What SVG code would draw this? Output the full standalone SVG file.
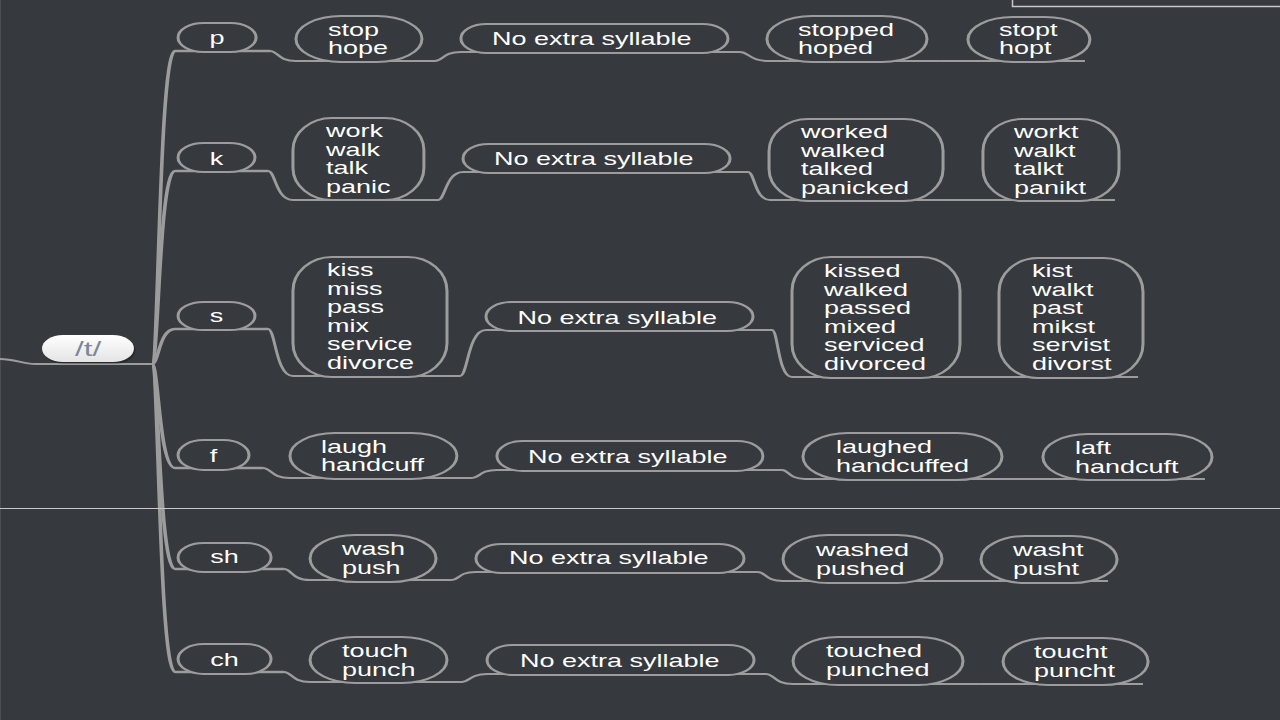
<svg xmlns="http://www.w3.org/2000/svg" width="1280" height="720" viewBox="0 0 1280 720">
<defs>
<style>
.n{fill:#36393e;stroke:#9c9c9c;stroke-width:2}
.c{fill:none;stroke:#9c9c9c;stroke-width:2}
.tr{fill:none;stroke:#9c9c9c;stroke-width:2.4}
.t{font-family:"Liberation Sans",Arial,sans-serif;font-size:18px;fill:#ffffff}
.m{text-anchor:middle}
</style>
<linearGradient id="rootg" x1="0" y1="0" x2="0" y2="1">
<stop offset="0" stop-color="#ffffff"/>
<stop offset="1" stop-color="#e4e4e4"/>
</linearGradient>
</defs>
<rect x="0" y="0" width="1280" height="720" fill="#36393e"/>
<line x1="0.5" y1="0" x2="0.5" y2="720" stroke="#4a4d52" stroke-width="1"/>
<g transform="scale(1.5,1)">
<g id="connectors">
<path class="c" d="M0,359 C10,359 15,364 23.3,364 L101.3,364"/>
<path class="tr" d="M101.3,364 C105.9,364 105.9,51 116.7,51 L180,51"/>
<path class="tr" d="M101.3,364 C105.9,364 105.9,171 116.7,171 L178.7,171"/>
<path class="tr" d="M101.3,364 C105.9,364 105.9,329 116.7,329 L178.7,329"/>
<path class="tr" d="M101.3,364 C105.9,364 105.9,468 116.7,468 L175.3,468"/>
<path class="tr" d="M101.3,364 C105.9,364 105.9,569 116.7,569 L189.3,569"/>
<path class="tr" d="M101.3,364 C105.9,364 105.9,672 116.7,672 L189.3,672"/>
<path class="c" d="M180,51 C185.2,51 185.2,61 197.3,61 L290,61"/>
<path class="c" d="M290,61 C295.2,61 295.2,52 307.3,52 L493.3,52"/>
<path class="c" d="M493.3,52 C499.3,52 499.3,61 513.3,61 L626.7,61"/>
<path class="c" d="M626.7,61 L723.3,61"/>
<path class="c" d="M178.7,171 C183.7,171 183.7,200 195.3,200 L292,200"/>
<path class="c" d="M292,200 C297,200 297,172 308.7,172 L498.7,172"/>
<path class="c" d="M498.7,172 C503.1,172 503.1,200 513.3,200 L640,200"/>
<path class="c" d="M640,200 L743.3,200"/>
<path class="c" d="M178.7,329 C183.7,329 183.7,376 195.3,376 L306.7,376"/>
<path class="c" d="M306.7,376 C311.9,376 311.9,330 324,330 L514.7,330"/>
<path class="c" d="M514.7,330 C518.7,330 518.7,377 528,377 L650,377"/>
<path class="c" d="M650,377 L758.7,377"/>
<path class="c" d="M175.3,468 C180.7,468 180.7,478 193.3,478 L314.7,478"/>
<path class="c" d="M314.7,478 C319.7,478 319.7,470 331.3,470 L521.3,470"/>
<path class="c" d="M521.3,470 C525.9,470 525.9,479 536.7,479 L680,479"/>
<path class="c" d="M680,479 L803.3,479"/>
<path class="c" d="M189.3,569 C194.5,569 194.5,580 206.7,580 L301.3,580"/>
<path class="c" d="M301.3,580 C305.9,580 305.9,572 316.7,572 L505.3,572"/>
<path class="c" d="M505.3,572 C510.3,572 510.3,581 522,581 L640,581"/>
<path class="c" d="M640,581 L738.7,581"/>
<path class="c" d="M189.3,672 C194.5,672 194.5,682 206.7,682 L308,682"/>
<path class="c" d="M308,682 C313,682 313,674 324.7,674 L510.7,674"/>
<path class="c" d="M510.7,674 C516.1,674 516.1,684 528.7,684 L653.3,684"/>
<path class="c" d="M653.3,684 L762,684"/>
</g>

<g id="root">
<rect x="29" y="337" width="61.3" height="27" rx="14" ry="13.5" fill="#000" opacity="0.25"/>
<rect x="28" y="335" width="61.3" height="27" rx="14" ry="13.5" fill="url(#rootg)"/>
<text class="t m" x="58.7" y="356" style="fill:#7d8799;font-size:21px">/t/</text>
</g>

<g id="node-p">
<rect class="n" x="118.7" y="23" width="52" height="29" rx="17" ry="14.5"/>
<text class="t m" x="144.7" y="44">p</text>
</g>
<g id="node-stop">
<rect class="n" x="197.3" y="16" width="84" height="46" rx="30" ry="23"/>
<text class="t" x="218.7" y="36">stop</text>
<text class="t" x="218.7" y="54">hope</text>
</g>
<g id="node-p-nes">
<rect class="n" x="307.3" y="24" width="178" height="29" rx="17" ry="14.5"/>
<text class="t" x="328" y="45">No extra syllable</text>
</g>
<g id="node-stopped">
<rect class="n" x="511.3" y="16" width="106.7" height="46" rx="30" ry="23"/>
<text class="t" x="532" y="36">stopped</text>
<text class="t" x="532" y="54">hoped</text>
</g>
<g id="node-stopt">
<rect class="n" x="645.3" y="17" width="81.3" height="45" rx="30" ry="22.5"/>
<text class="t" x="666" y="36">stopt</text>
<text class="t" x="666" y="54">hopt</text>
</g>

<g id="node-k">
<rect class="n" x="118.7" y="143" width="51.3" height="29" rx="17" ry="14.5"/>
<text class="t m" x="144.3" y="165">k</text>
</g>
<g id="node-work">
<rect class="n" x="195.3" y="118" width="87.3" height="82" rx="26" ry="32"/>
<text class="t" x="217.3" y="137">work</text>
<text class="t" x="217.3" y="155.6">walk</text>
<text class="t" x="217.3" y="174.2">talk</text>
<text class="t" x="217.3" y="192.8">panic</text>
</g>
<g id="node-k-nes">
<rect class="n" x="308.7" y="144" width="178" height="29" rx="17" ry="14.5"/>
<text class="t" x="329.3" y="165">No extra syllable</text>
</g>
<g id="node-worked">
<rect class="n" x="512.7" y="119" width="116" height="82" rx="26" ry="32"/>
<text class="t" x="534" y="138">worked</text>
<text class="t" x="534" y="156.6">walked</text>
<text class="t" x="534" y="175.2">talked</text>
<text class="t" x="534" y="193.8">panicked</text>
</g>
<g id="node-workt">
<rect class="n" x="655.3" y="119" width="90.7" height="82" rx="26" ry="32"/>
<text class="t" x="676" y="138">workt</text>
<text class="t" x="676" y="156.6">walkt</text>
<text class="t" x="676" y="175.2">talkt</text>
<text class="t" x="676" y="193.8">panikt</text>
</g>

<g id="node-s">
<rect class="n" x="118.7" y="302" width="51.3" height="28" rx="17" ry="14"/>
<text class="t m" x="144.3" y="322">s</text>
</g>
<g id="node-kiss">
<rect class="n" x="195.3" y="257" width="102.7" height="120" rx="26" ry="34"/>
<text class="t" x="218" y="276">kiss</text>
<text class="t" x="218" y="294.6">miss</text>
<text class="t" x="218" y="313.2">pass</text>
<text class="t" x="218" y="331.8">mix</text>
<text class="t" x="218" y="350.4">service</text>
<text class="t" x="218" y="369">divorce</text>
</g>
<g id="node-s-nes">
<rect class="n" x="324" y="302" width="178" height="29" rx="17" ry="14.5"/>
<text class="t" x="345" y="324">No extra syllable</text>
</g>
<g id="node-kissed">
<rect class="n" x="528" y="257" width="112" height="121" rx="26" ry="34"/>
<text class="t" x="549.3" y="277">kissed</text>
<text class="t" x="549.3" y="295.6">walked</text>
<text class="t" x="549.3" y="314.2">passed</text>
<text class="t" x="549.3" y="332.8">mixed</text>
<text class="t" x="549.3" y="351.4">serviced</text>
<text class="t" x="549.3" y="370">divorced</text>
</g>
<g id="node-kist">
<rect class="n" x="666" y="258" width="96" height="120" rx="26" ry="34"/>
<text class="t" x="688" y="277">kist</text>
<text class="t" x="688" y="295.6">walkt</text>
<text class="t" x="688" y="314.2">past</text>
<text class="t" x="688" y="332.8">mikst</text>
<text class="t" x="688" y="351.4">servist</text>
<text class="t" x="688" y="370">divorst</text>
</g>

<g id="node-f">
<rect class="n" x="118.7" y="440" width="47.3" height="30" rx="17" ry="15"/>
<text class="t m" x="142.3" y="462">f</text>
</g>
<g id="node-laugh">
<rect class="n" x="193.3" y="433" width="111.3" height="46" rx="30" ry="23"/>
<text class="t" x="214" y="453">laugh</text>
<text class="t" x="214" y="471">handcuff</text>
</g>
<g id="node-f-nes">
<rect class="n" x="331.3" y="441" width="177.3" height="30" rx="17" ry="15"/>
<text class="t" x="352" y="463">No extra syllable</text>
</g>
<g id="node-laughed">
<rect class="n" x="535.3" y="433" width="132.7" height="47" rx="30" ry="23.5"/>
<text class="t" x="557.3" y="453">laughed</text>
<text class="t" x="557.3" y="471.6">handcuffed</text>
</g>
<g id="node-laft">
<rect class="n" x="695.3" y="434" width="112.7" height="46" rx="30" ry="23"/>
<text class="t" x="716.7" y="454">laft</text>
<text class="t" x="716.7" y="472.6">handcuft</text>
</g>

<g id="node-sh">
<rect class="n" x="118.7" y="543" width="62" height="29" rx="17" ry="14.5"/>
<text class="t m" x="149.7" y="563">sh</text>
</g>
<g id="node-wash">
<rect class="n" x="206.7" y="535" width="84" height="47" rx="30" ry="23.5"/>
<text class="t" x="228" y="555">wash</text>
<text class="t" x="228" y="573.6">push</text>
</g>
<g id="node-sh-nes">
<rect class="n" x="317.3" y="544" width="178.7" height="29" rx="17" ry="14.5"/>
<text class="t" x="339.3" y="564">No extra syllable</text>
</g>
<g id="node-washed">
<rect class="n" x="522" y="535" width="106" height="48" rx="30" ry="24"/>
<text class="t" x="544" y="556">washed</text>
<text class="t" x="544" y="574.6">pushed</text>
</g>
<g id="node-washt">
<rect class="n" x="654" y="536" width="90.7" height="47" rx="30" ry="23.5"/>
<text class="t" x="675.3" y="556">washt</text>
<text class="t" x="675.3" y="574.6">pusht</text>
</g>

<g id="node-ch">
<rect class="n" x="118.7" y="644" width="62" height="30" rx="17" ry="15"/>
<text class="t m" x="149.7" y="666">ch</text>
</g>
<g id="node-touch">
<rect class="n" x="206.7" y="637" width="91.3" height="46" rx="30" ry="23"/>
<text class="t" x="228" y="657">touch</text>
<text class="t" x="228" y="675.6">punch</text>
</g>
<g id="node-ch-nes">
<rect class="n" x="324.7" y="645" width="178" height="30" rx="17" ry="15"/>
<text class="t" x="346.7" y="667">No extra syllable</text>
</g>
<g id="node-touched">
<rect class="n" x="528.7" y="637" width="113.3" height="48" rx="30" ry="24"/>
<text class="t" x="550.7" y="657">touched</text>
<text class="t" x="550.7" y="675.6">punched</text>
</g>
<g id="node-toucht">
<rect class="n" x="668.7" y="638" width="96.7" height="47" rx="30" ry="23.5"/>
<text class="t" x="689.3" y="658">toucht</text>
<text class="t" x="689.3" y="676.6">puncht</text>
</g>
</g>
<line x1="0" y1="508.5" x2="1280" y2="508.5" stroke="#c8c8c8" stroke-width="1"/>
<rect x="1012.5" y="-6" width="280" height="12.5" fill="none" stroke="#c8c8c8" stroke-width="1.5"/>
</svg>
